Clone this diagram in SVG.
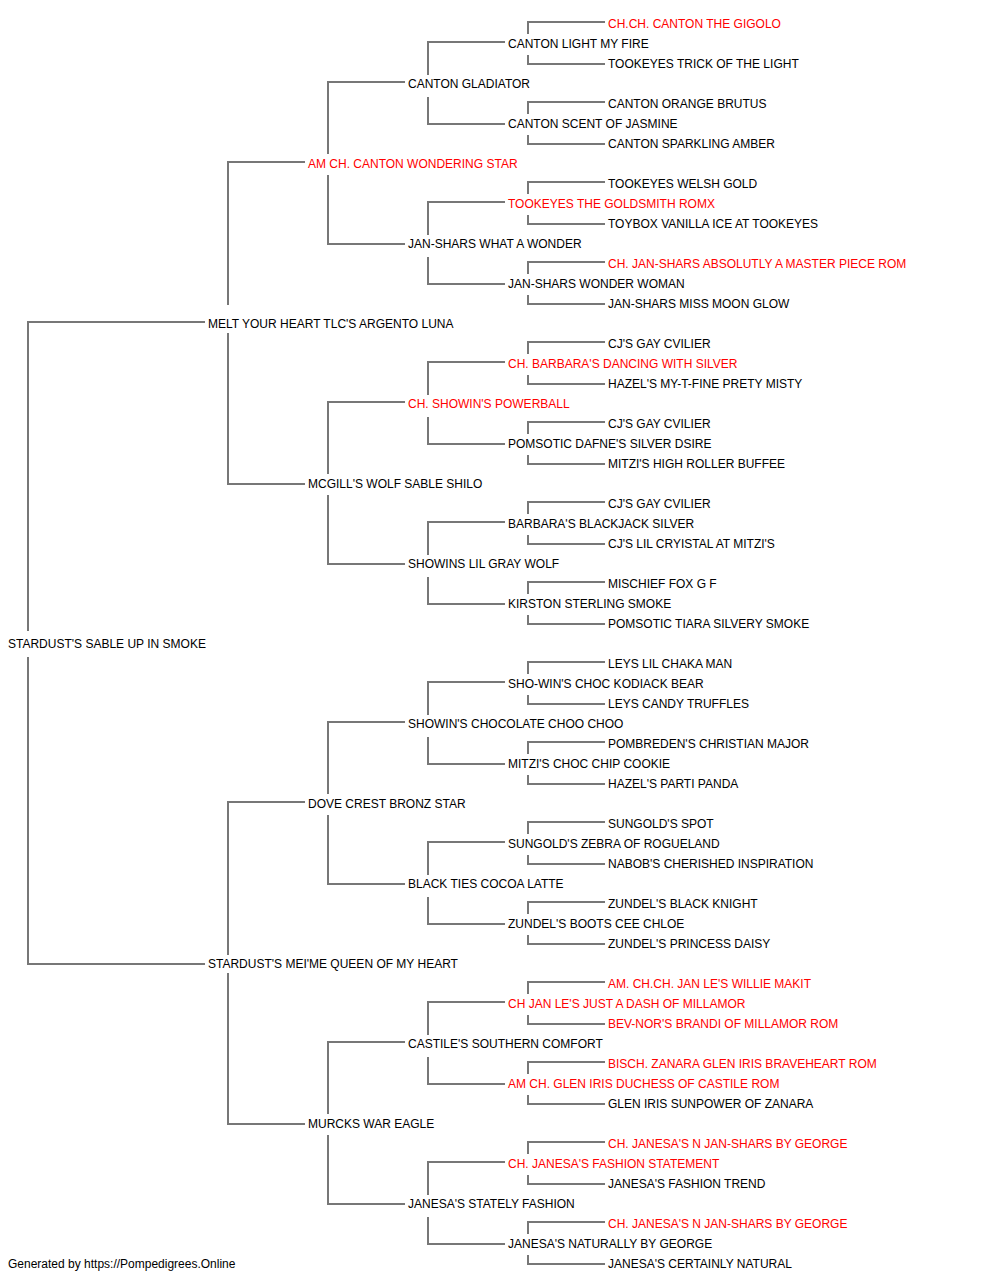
<svg xmlns="http://www.w3.org/2000/svg" width="1000" height="1280" viewBox="0 0 1000 1280">
<style>
text{font-family:"Liberation Sans",Arial,sans-serif;font-size:12px;fill:#000}
text.r{fill:#ff0000}
.c path{fill:none;stroke:#777;stroke-width:2}
</style>
<rect width="1000" height="1280" fill="#fff"/>
<g id="connectors" class="c">
<path d="M205,322 H28 V631 M28,657 V964 H205"/>
<path d="M305,162 H228 V305 M228,333 V484 H305"/>
<path d="M305,802 H228 V955 M228,973 V1124 H305"/>
<path d="M405,82 H328 V154 M328,175 V244 H405"/>
<path d="M405,402 H328 V474 M328,495 V564 H405"/>
<path d="M405,722 H328 V794 M328,815 V884 H405"/>
<path d="M405,1042 H328 V1114 M328,1135 V1204 H405"/>
<path d="M505,42 H428 V75 M428,97 V124 H505"/>
<path d="M505,202 H428 V235 M428,257 V284 H505"/>
<path d="M505,362 H428 V395 M428,417 V444 H505"/>
<path d="M505,522 H428 V555 M428,577 V604 H505"/>
<path d="M505,682 H428 V715 M428,737 V764 H505"/>
<path d="M505,842 H428 V875 M428,897 V924 H505"/>
<path d="M505,1002 H428 V1035 M428,1057 V1084 H505"/>
<path d="M505,1162 H428 V1195 M428,1217 V1244 H505"/>
<path d="M605,22 H528 V34 M528,55 V64 H605"/>
<path d="M605,102 H528 V114 M528,135 V144 H605"/>
<path d="M605,182 H528 V194 M528,215 V224 H605"/>
<path d="M605,262 H528 V274 M528,295 V304 H605"/>
<path d="M605,342 H528 V354 M528,375 V384 H605"/>
<path d="M605,422 H528 V434 M528,455 V464 H605"/>
<path d="M605,502 H528 V514 M528,535 V544 H605"/>
<path d="M605,582 H528 V594 M528,615 V624 H605"/>
<path d="M605,662 H528 V674 M528,695 V704 H605"/>
<path d="M605,742 H528 V754 M528,775 V784 H605"/>
<path d="M605,822 H528 V834 M528,855 V864 H605"/>
<path d="M605,902 H528 V914 M528,935 V944 H605"/>
<path d="M605,982 H528 V994 M528,1015 V1024 H605"/>
<path d="M605,1062 H528 V1074 M528,1095 V1104 H605"/>
<path d="M605,1142 H528 V1154 M528,1175 V1184 H605"/>
<path d="M605,1222 H528 V1234 M528,1255 V1264 H605"/>
</g>
<g id="n0"><text class="r" x="608" y="28">CH.CH. CANTON THE GIGOLO</text></g>
<g id="n1"><text x="508" y="48">CANTON LIGHT MY FIRE</text></g>
<g id="n2"><text x="608" y="68">TOOKEYES TRICK OF THE LIGHT</text></g>
<g id="n3"><text x="408" y="88">CANTON GLADIATOR</text></g>
<g id="n4"><text x="608" y="108">CANTON ORANGE BRUTUS</text></g>
<g id="n5"><text x="508" y="128">CANTON SCENT OF JASMINE</text></g>
<g id="n6"><text x="608" y="148">CANTON SPARKLING AMBER</text></g>
<g id="n7"><text class="r" x="308" y="168">AM CH. CANTON WONDERING STAR</text></g>
<g id="n8"><text x="608" y="188">TOOKEYES WELSH GOLD</text></g>
<g id="n9"><text class="r" x="508" y="208">TOOKEYES THE GOLDSMITH ROMX</text></g>
<g id="n10"><text x="608" y="228">TOYBOX VANILLA ICE AT TOOKEYES</text></g>
<g id="n11"><text x="408" y="248">JAN-SHARS WHAT A WONDER</text></g>
<g id="n12"><text class="r" x="608" y="268">CH. JAN-SHARS ABSOLUTLY A MASTER PIECE ROM</text></g>
<g id="n13"><text x="508" y="288">JAN-SHARS WONDER WOMAN</text></g>
<g id="n14"><text x="608" y="308">JAN-SHARS MISS MOON GLOW</text></g>
<g id="n15"><text x="208" y="328">MELT YOUR HEART TLC'S ARGENTO LUNA</text></g>
<g id="n16"><text x="608" y="348">CJ'S GAY CVILIER</text></g>
<g id="n17"><text class="r" x="508" y="368">CH. BARBARA'S DANCING WITH SILVER</text></g>
<g id="n18"><text x="608" y="388">HAZEL'S MY-T-FINE PRETY MISTY</text></g>
<g id="n19"><text class="r" x="408" y="408">CH. SHOWIN'S POWERBALL</text></g>
<g id="n20"><text x="608" y="428">CJ'S GAY CVILIER</text></g>
<g id="n21"><text x="508" y="448">POMSOTIC DAFNE'S SILVER DSIRE</text></g>
<g id="n22"><text x="608" y="468">MITZI'S HIGH ROLLER BUFFEE</text></g>
<g id="n23"><text x="308" y="488">MCGILL'S WOLF SABLE SHILO</text></g>
<g id="n24"><text x="608" y="508">CJ'S GAY CVILIER</text></g>
<g id="n25"><text x="508" y="528">BARBARA'S BLACKJACK SILVER</text></g>
<g id="n26"><text x="608" y="548">CJ'S LIL CRYISTAL AT MITZI'S</text></g>
<g id="n27"><text x="408" y="568">SHOWINS LIL GRAY WOLF</text></g>
<g id="n28"><text x="608" y="588">MISCHIEF FOX G F</text></g>
<g id="n29"><text x="508" y="608">KIRSTON STERLING SMOKE</text></g>
<g id="n30"><text x="608" y="628">POMSOTIC TIARA SILVERY SMOKE</text></g>
<g id="n31"><text x="8" y="648">STARDUST'S SABLE UP IN SMOKE</text></g>
<g id="n32"><text x="608" y="668">LEYS LIL CHAKA MAN</text></g>
<g id="n33"><text x="508" y="688">SHO-WIN'S CHOC KODIACK BEAR</text></g>
<g id="n34"><text x="608" y="708">LEYS CANDY TRUFFLES</text></g>
<g id="n35"><text x="408" y="728">SHOWIN'S CHOCOLATE CHOO CHOO</text></g>
<g id="n36"><text x="608" y="748">POMBREDEN'S CHRISTIAN MAJOR</text></g>
<g id="n37"><text x="508" y="768">MITZI'S CHOC CHIP COOKIE</text></g>
<g id="n38"><text x="608" y="788">HAZEL'S PARTI PANDA</text></g>
<g id="n39"><text x="308" y="808">DOVE CREST BRONZ STAR</text></g>
<g id="n40"><text x="608" y="828">SUNGOLD'S SPOT</text></g>
<g id="n41"><text x="508" y="848">SUNGOLD'S ZEBRA OF ROGUELAND</text></g>
<g id="n42"><text x="608" y="868">NABOB'S CHERISHED INSPIRATION</text></g>
<g id="n43"><text x="408" y="888">BLACK TIES COCOA LATTE</text></g>
<g id="n44"><text x="608" y="908">ZUNDEL'S BLACK KNIGHT</text></g>
<g id="n45"><text x="508" y="928">ZUNDEL'S BOOTS CEE CHLOE</text></g>
<g id="n46"><text x="608" y="948">ZUNDEL'S PRINCESS DAISY</text></g>
<g id="n47"><text x="208" y="968">STARDUST'S MEI'ME QUEEN OF MY HEART</text></g>
<g id="n48"><text class="r" x="608" y="988">AM. CH.CH. JAN LE'S WILLIE MAKIT</text></g>
<g id="n49"><text class="r" x="508" y="1008">CH JAN LE'S JUST A DASH OF MILLAMOR</text></g>
<g id="n50"><text class="r" x="608" y="1028">BEV-NOR'S BRANDI OF MILLAMOR ROM</text></g>
<g id="n51"><text x="408" y="1048">CASTILE'S SOUTHERN COMFORT</text></g>
<g id="n52"><text class="r" x="608" y="1068">BISCH. ZANARA GLEN IRIS BRAVEHEART ROM</text></g>
<g id="n53"><text class="r" x="508" y="1088">AM CH. GLEN IRIS DUCHESS OF CASTILE ROM</text></g>
<g id="n54"><text x="608" y="1108">GLEN IRIS SUNPOWER OF ZANARA</text></g>
<g id="n55"><text x="308" y="1128">MURCKS WAR EAGLE</text></g>
<g id="n56"><text class="r" x="608" y="1148">CH. JANESA'S N JAN-SHARS BY GEORGE</text></g>
<g id="n57"><text class="r" x="508" y="1168">CH. JANESA'S FASHION STATEMENT</text></g>
<g id="n58"><text x="608" y="1188">JANESA'S FASHION TREND</text></g>
<g id="n59"><text x="408" y="1208">JANESA'S STATELY FASHION</text></g>
<g id="n60"><text class="r" x="608" y="1228">CH. JANESA'S N JAN-SHARS BY GEORGE</text></g>
<g id="n61"><text x="508" y="1248">JANESA'S NATURALLY BY GEORGE</text></g>
<g id="n62"><text x="608" y="1268">JANESA'S CERTAINLY NATURAL</text></g>
<g id="footer"><text x="8" y="1268">Generated by https://Pompedigrees.Online</text></g>
</svg>
